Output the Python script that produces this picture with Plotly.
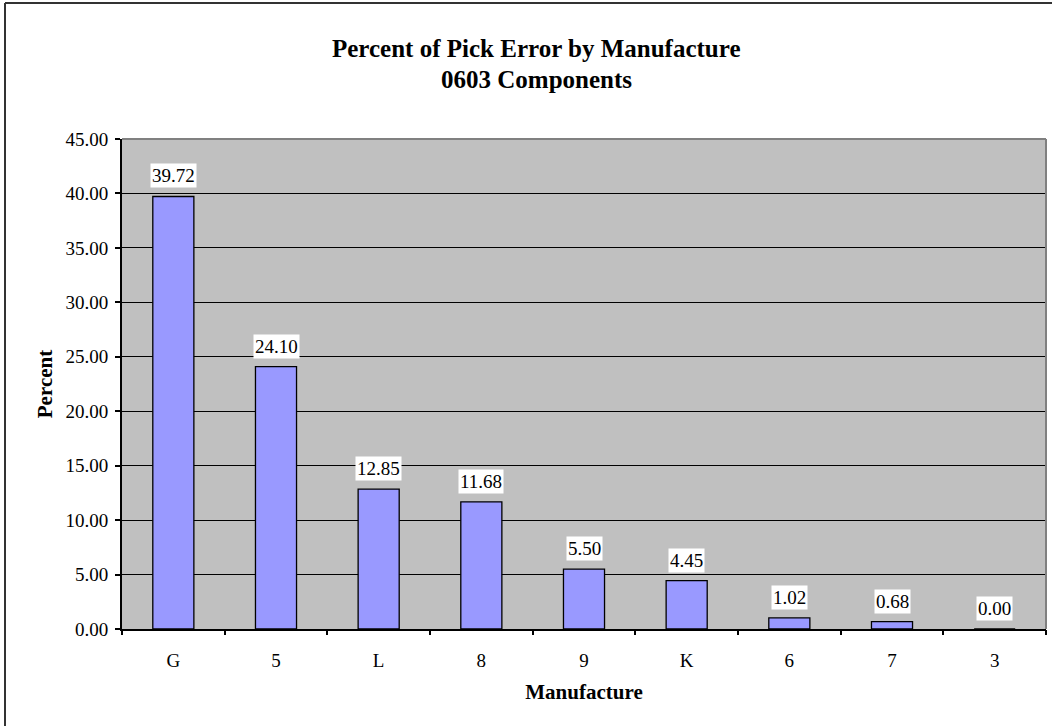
import plotly.graph_objects as go

categories = ["G", "5", "L", "8", "9", "K", "6", "7", "3"]
values = [39.72, 24.10, 12.85, 11.68, 5.50, 4.45, 1.02, 0.68, 0.00]
y_ticks = [0, 5, 10, 15, 20, 25, 30, 35, 40, 45]

FONT = "Liberation Serif, Times New Roman, serif"
W, H = 1052, 726
L, R, T, B = 122, 6, 139, 97
PW, PH = W - L - R, H - T - B

def px_x(x):
    return (x - L) / PW

def px_y(y):
    return (H - B - y) / PH

fig = go.Figure()
fig.add_trace(go.Bar(
    x=list(range(len(categories))), y=values, width=0.4,
    marker=dict(color="#9999FF", line=dict(color="black", width=1.3)),
    hovertext=categories, hoverinfo="text+y",
))

annotations = []
for i, v in enumerate(values):
    annotations.append(dict(
        x=i, y=v, xref="x", yref="y", text=f"{v:.2f}", showarrow=False,
        yanchor="bottom", yshift=8, bgcolor="white", borderpad=1,
        font=dict(family=FONT, size=19, color="black"),
    ))

annotations += [
    dict(x=px_x(536), y=px_y(48), xref="paper", yref="paper",
         text="<b>Percent of Pick Error by Manufacture</b>", showarrow=False,
         xanchor="center", yanchor="middle",
         font=dict(family=FONT, size=25, color="black")),
    dict(x=px_x(536), y=px_y(79), xref="paper", yref="paper",
         text="<b>0603 Components</b>", showarrow=False,
         xanchor="center", yanchor="middle",
         font=dict(family=FONT, size=25, color="black")),
]

fig.update_layout(
    width=W, height=H,
    margin=dict(l=L, r=R, t=T, b=B, pad=0),
    paper_bgcolor="white", plot_bgcolor="#C0C0C0",
    showlegend=False,
    font=dict(family=FONT, size=19, color="black"),
    annotations=annotations,
    xaxis=dict(
        tickvals=list(range(len(categories))), ticktext=categories,
        range=[-0.5, len(categories) - 0.5],
        ticks="", showline=True, linecolor="black",
        linewidth=2, showgrid=False, zeroline=False, ticklabelstandoff=13,
        tickfont=dict(family=FONT, size=19, color="black"),
        title=dict(text="<b>Manufacture</b>", standoff=15,
                   font=dict(family=FONT, size=21, color="black")),
    ),
    xaxis2=dict(
        overlaying="x", matches="x", anchor="y",
        tickvals=[i + 0.5 for i in range(-1, len(categories))],
        ticks="outside", ticklen=5, tickwidth=2, tickcolor="black",
        showticklabels=False, showgrid=False, zeroline=False, side="bottom",
    ),
    yaxis=dict(
        range=[0, 45], tickvals=y_ticks, tickformat=".2f",
        ticks="outside", ticklen=5, tickwidth=2, tickcolor="black",
        showline=True, linecolor="black", linewidth=2,
        showgrid=True, gridcolor="black", gridwidth=1, zeroline=False,
        ticklabelstandoff=3,
        tickfont=dict(family=FONT, size=19, color="black"),
        title=dict(text="<b>Percent</b>", standoff=7,
                   font=dict(family=FONT, size=21, color="black")),
    ),
    shapes=[
        dict(type="line", xref="paper", yref="paper", x0=0, x1=1, y0=1, y1=1,
             line=dict(color="#808080", width=2)),
        dict(type="line", xref="paper", yref="paper", x0=1, x1=1, y0=0, y1=1,
             line=dict(color="#808080", width=2)),
        dict(type="line", xref="paper", yref="paper", x0=px_x(5), x1=px_x(5),
             y0=px_y(3), y1=px_y(740), line=dict(color="#333333", width=2)),
        dict(type="line", xref="paper", yref="paper", x0=px_x(5), x1=px_x(1060),
             y0=px_y(3), y1=px_y(3), line=dict(color="#333333", width=2)),
    ],
)
# invisible trace to activate the boundary-tick axis
fig.add_trace(go.Scatter(x=[0], y=[0], xaxis="x2", mode="markers",
                         marker=dict(opacity=0), hoverinfo="skip"))

fig.write_html("out.html")
